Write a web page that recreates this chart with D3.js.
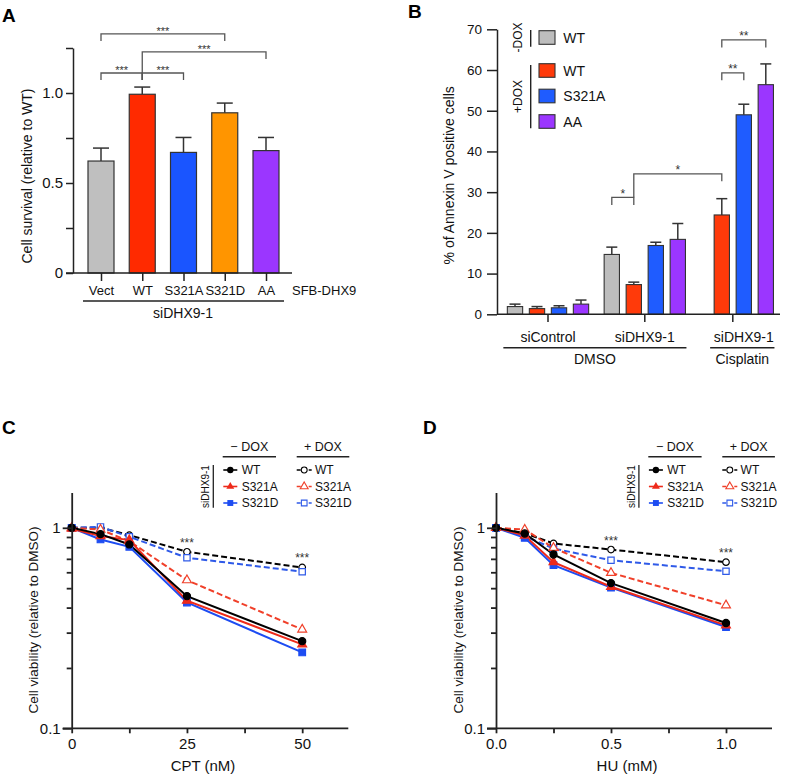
<!DOCTYPE html>
<html><head><meta charset="utf-8">
<script src="https://cdn.jsdelivr.net/npm/d3@7"></script>
<style>body{margin:0;background:#fff}svg{display:block}</style>
</head><body>
<svg id="chart" width="787" height="775"></svg>
<script>
// ================= DATA =================
// Panel A
const aCategories = ["Vect", "WT", "S321A", "S321D", "AA"];
const aValues = [0.622, 0.993, 0.670, 0.890, 0.680];
const aErrors = [0.072, 0.040, 0.083, 0.054, 0.073];
const aYTicks = [0, 0.25, 0.5, 0.75, 1.0, 1.25];
const aYTickLabels = ["0", "", "0.5", "", "1.0", ""];
const aBrackets = [
  { from: "Vect", to: "S321D", level: 1.328, label: "***" },
  { from: "WT", to: "AA", level: 1.228, label: "***" },
  { from: "Vect", to: "WT", level: 1.111, label: "***" },
  { from: "WT", to: "S321A", level: 1.111, label: "***" }
];

// Panel B
const bGroups = ["siControl", "siDHX9-1", "siDHX9-1"];
const bTreatments = ["DMSO", "DMSO", "Cisplatin"];
const bSeries = ["WT", "WT", "S321A", "AA"];
const bDox = ["-DOX", "+DOX", "+DOX", "+DOX"];
const bValues = [
  [1.9, 1.4, 1.6, 2.5],
  [14.7, 7.3, 16.9, 18.4],
  [null, 24.4, 49.0, 56.4]
];
const bErrors = [
  [0.6, 0.5, 0.5, 1.0],
  [1.8, 0.6, 0.8, 3.9],
  [null, 4.0, 2.6, 5.1]
];
const bYTicks = [0, 10, 20, 30, 40, 50, 60, 70];
const bBrackets = [
  { g1: 1, s1: 0, g2: 1, s2: 1, level: 28.7, label: "*" },
  { g1: 1, s1: 1, g2: 2, s2: 1, level: 34.5, label: "*" },
  { g1: 2, s1: 1, g2: 2, s2: 2, level: 59.3, label: "**" },
  { g1: 2, s1: 1, g2: 2, s2: 3, level: 67.4, label: "**" }
];

// Panel C (CPT)
const cDoses = [0, 6.25, 12.5, 25, 50];
const cWTminus = [1.0, 0.93, 0.826, 0.456, 0.272];
const cS321Aminus = [0.99, 0.91, 0.868, 0.433, 0.262];
const cS321Dminus = [1.0, 0.875, 0.804, 0.424, 0.239];
const cWTplus = [1.0, 1.0, 0.919, 0.759, 0.634];
const cS321Aplus = [1.0, 0.98, 0.858, 0.548, 0.311];
const cS321Dplus = [1.0, 1.01, 0.902, 0.709, 0.604];
const cXTicks = [0, 12.5, 25, 37.5, 50];
const cXTickLabels = ["0", "", "25", "", "50"];
const cStarDoses = [25, 50];

// Panel D (HU)
const dDoses = [0, 0.125, 0.25, 0.5, 1.0];
const dWTminus = [1.0, 0.937, 0.736, 0.530, 0.335];
const dS321Aminus = [1.0, 0.915, 0.674, 0.508, 0.326];
const dS321Dminus = [1.0, 0.891, 0.651, 0.503, 0.320];
const dWTplus = [1.0, 0.94, 0.835, 0.779, 0.674];
const dS321Aplus = [1.0, 0.98, 0.794, 0.596, 0.411];
const dS321Dplus = [1.0, 0.909, 0.788, 0.689, 0.607];
const dXTicks = [0, 0.25, 0.5, 0.75, 1.0];
const dXTickLabels = ["0.0", "", "0.5", "", "1.0"];
const dStarDoses = [0.5, 1.0];

const logYTicks = [0.1, 0.2, 0.3, 0.4, 0.5, 0.6, 0.7, 0.8, 0.9, 1];
const logYTickLabels = ["0.1", "", "", "", "", "", "", "", "", "1"];
const lineNames = ["WT", "S321A", "S321D"];

// ================= DRAWING =================
const FONT = "Arial, 'Liberation Sans', Helvetica, sans-serif";
const svg = d3.select("#chart").attr("font-family", FONT);
const INK = "#222";

function styleAxis(g, fs, sw) {
  g.attr("font-family", FONT).attr("font-size", fs);
  g.selectAll("text").attr("fill", "#111");
  g.selectAll("line,path").attr("stroke", INK).attr("stroke-width", sw);
}
function txt(x, y, s, fs, anchor, extra) {
  const t = svg.append("text").attr("x", x).attr("y", y).attr("font-size", fs)
    .attr("text-anchor", anchor || "start").attr("fill", "#111").text(s);
  if (extra) extra(t);
  return t;
}
function line(x1, y1, x2, y2, sw, col) {
  return svg.append("line").attr("x1", x1).attr("y1", y1).attr("x2", x2).attr("y2", y2)
    .attr("stroke", col || INK).attr("stroke-width", sw || 1.3);
}

// panel letters
[["A", 2, 21.7], ["B", 408, 18.3], ["C", 2, 434], ["D", 423, 434]].forEach(([l, x, y]) =>
  txt(x, y, l, 19, "start", t => t.attr("font-weight", "bold").attr("fill", "#000")));

// ---------- Panel A ----------
(function () {
  const aColors = ["#bfbfbf", "#ff2a00", "#1a55ff", "#ff9500", "#9b36ff"];
  const y = d3.scaleLinear([0, 1.25], [273, 48]);
  const x = d3.scalePoint(aCategories, [101, 266]);
  const bw = 26;
  const g = svg.append("g");
  g.selectAll("rect").data(aCategories).join("rect")
    .attr("x", d => x(d) - bw / 2).attr("y", (d, i) => y(aValues[i]))
    .attr("width", bw).attr("height", (d, i) => y(0) - y(aValues[i]))
    .attr("fill", (d, i) => aColors[i]).attr("stroke", "#333").attr("stroke-width", 1.2);
  aCategories.forEach((c, i) => {
    const top = y(aValues[i] + aErrors[i]);
    line(x(c), y(aValues[i]), x(c), top, 1.5, "#333");
    line(x(c) - 8, top, x(c) + 8, top, 1.5, "#333");
  });
  const ya = svg.append("g").attr("transform", "translate(73,0)")
    .call(d3.axisLeft(y).tickValues(aYTicks).tickFormat((d, i) => aYTickLabels[i]).tickSize(7).tickPadding(3).tickSizeOuter(0));
  styleAxis(ya, 15, 1.5);
  const xa = svg.append("g").attr("transform", "translate(0,273)")
    .call(d3.axisBottom(x).tickSize(8).tickPadding(4.5).tickSizeOuter(0));
  styleAxis(xa, 13, 1.5);
  xa.select(".domain").attr("d", "M66,0H292");
  txt(292, 295, "SFB-DHX9", 13, "start");
  line(83, 301, 284, 301, 1.5);
  txt(183, 318, "siDHX9-1", 14, "middle");
  txt(0, 0, "Cell survival (relative to WT)", 14, "middle",
    t => t.attr("transform", "translate(27,176) rotate(-90)").attr("dy", "0.35em"));
  // brackets
  aBrackets.forEach(b => {
    const yl = y(b.level);
    const lowest = y(d3.min(aBrackets, q => q.level)) + 7;
    const x1 = x(b.from), x2 = x(b.to);
    const dl = (b.from === "WT" && b.to === "AA") ? lowest : yl + 7;
    const dr = yl + 7;
    svg.append("path").attr("d", `M${x1},${dl}V${yl}H${x2}V${dr}`)
      .attr("fill", "none").attr("stroke", "#555").attr("stroke-width", 1.3);
    txt((x1 + x2) / 2, yl + 1, b.label, 11, "middle", t => t.attr("fill", "#333"));
  });
})();

// ---------- Panel B ----------
(function () {
  const bColors = ["#bdbdbd", "#ff3a0a", "#1f5cff", "#9b36ff"];
  const groupStart = [0, 4.4, 8.4];
  const slot = d3.scaleLinear([0, 11.4], [515, 765.8]);
  const xs = (gi, si) => slot(groupStart[gi] + si);
  const y = d3.scaleLinear([0, 70], [314.3, 29.3]);
  const bw = 15.3;
  bValues.forEach((row, gi) => row.forEach((v, si) => {
    if (v == null) return;
    const cx = xs(gi, si);
    svg.append("rect").attr("x", cx - bw / 2).attr("y", y(v)).attr("width", bw)
      .attr("height", y(0) - y(v)).attr("fill", bColors[si]).attr("stroke", "#333").attr("stroke-width", 1.1);
    const top = y(v + bErrors[gi][si]);
    line(cx, y(v), cx, top, 1.5, "#333");
    line(cx - 5.5, top, cx + 5.5, top, 1.5, "#333");
  }));
  const ya = svg.append("g").attr("transform", "translate(497,0)")
    .call(d3.axisLeft(y).tickValues(bYTicks).tickSize(10).tickPadding(5).tickSizeOuter(0));
  styleAxis(ya, 13.5, 1.5);
  line(497, 314.3, 780, 314.3, 1.5);
  bGroups.forEach((gname, gi) => {
    const tickX = slot(groupStart[gi] + 1.5);
    line(tickX, 314.3, tickX, 322, 1.5);
    const present = bValues[gi].map((v, si) => v == null ? null : xs(gi, si)).filter(v => v != null);
    const cx = (d3.min(present) + d3.max(present)) / 2;
    txt(cx, 342, gname, 14, "middle");
  });
  // treatment underline
  const treatments = Array.from(new Set(bTreatments));
  treatments.forEach(tr => {
    const xsAll = [];
    bValues.forEach((row, gi) => { if (bTreatments[gi] === tr) row.forEach((v, si) => { if (v != null) xsAll.push(xs(gi, si)); }); });
    const l = d3.min(xsAll) - bw / 2 - 4, r = d3.max(xsAll) + bw / 2 + 1;
    line(l, 347.7, r, 347.7, 1.5);
    txt((l + r) / 2, 364, tr, 14, "middle");
  });
  txt(0, 0, "% of Annexin V positive cells", 14, "middle",
    t => t.attr("transform", "translate(449.3,175.3) rotate(-90)").attr("dy", "0.35em"));
  // legend
  const legY = [37.5, 70.5, 96, 121.5];
  bSeries.forEach((s, i) => {
    svg.append("rect").attr("x", 539).attr("y", legY[i] - 6.8).attr("width", 16).attr("height", 13.6)
      .attr("fill", bColors[i]).attr("stroke", "#333").attr("stroke-width", 1.1);
    txt(563.3, legY[i] + 5, s, 14, "start");
  });
  line(530.7, 30, 530.7, 46.7, 1.4);
  line(530.7, 65, 530.7, 128.3, 1.4);
  txt(0, 0, "-DOX", 12, "middle", t => t.attr("transform", "translate(517.7,37.5) rotate(-90)").attr("dy", "0.36em"));
  txt(0, 0, "+DOX", 12, "middle", t => t.attr("transform", "translate(517.7,96.5) rotate(-90)").attr("dy", "0.36em"));
  // brackets
  const lowest = y(d3.min(bBrackets, b => b.level));
  bBrackets.forEach((b, bi) => {
    const x1 = xs(b.g1, b.s1), x2 = xs(b.g2, b.s2), yl = y(b.level);
    const dl = (bi === 1) ? lowest : yl + 7.5;
    svg.append("path").attr("d", `M${x1},${dl}V${yl}H${x2}V${yl + 7.5}`)
      .attr("fill", "none").attr("stroke", "#555").attr("stroke-width", 1.3);
    txt((x1 + x2) / 2, yl + 0.5, b.label, 12, "middle", t => t.attr("fill", "#333"));
  });
})();

// ---------- Panels C & D ----------
function drawLinePanel(o) {
  const x = d3.scaleLinear(o.xDomain, [o.x0, o.x1]);
  const yBottom = 728.3, decade = 200.5;
  const y = d3.scaleLog([0.1, 1.5], [yBottom, yBottom - decade * Math.log10(15)]);
  const red = "#ee2a1a", blue = "#1d4cf2";
  const series = [
    { v: o.plus[0], col: "#000", dash: true, sym: d3.symbolCircle, fill: false },
    { v: o.plus[2], col: "#2f5ae8", dash: true, sym: d3.symbolSquare, fill: false },
    { v: o.plus[1], col: "#f0402a", dash: true, sym: d3.symbolTriangle, fill: false },
    { v: o.minus[2], col: blue, dash: false, sym: d3.symbolSquare, fill: true },
    { v: o.minus[1], col: red, dash: false, sym: d3.symbolTriangle, fill: true },
    { v: o.minus[0], col: "#000", dash: false, sym: d3.symbolCircle, fill: true }
  ];
  const lg = d3.line().x((d, i) => x(o.doses[i])).y(d => y(d));
  const symSize = (s, f) => s === d3.symbolCircle ? (f ? 40 : 34) : s === d3.symbolTriangle ? (f ? 34 : 34) : (f ? 44 : 40);
  series.forEach(s => {
    svg.append("path").attr("d", lg(s.v)).attr("fill", "none").attr("stroke", s.col)
      .attr("stroke-width", 2).attr("stroke-dasharray", s.dash ? "6,3" : null);
  });
  series.forEach(s => {
    s.v.forEach((v, i) => {
      svg.append("path").attr("d", d3.symbol().type(s.sym).size(symSize(s.sym, s.fill))())
        .attr("transform", `translate(${x(o.doses[i])},${y(v)})`)
        .attr("fill", s.fill ? s.col : "#fff").attr("stroke", s.col).attr("stroke-width", 1.2);
    });
  });
  // axes
  const ya = svg.append("g").attr("transform", `translate(${o.x0},0)`)
    .call(d3.axisLeft(y).tickValues(logYTicks).tickFormat((d, i) => logYTickLabels[i]).tickSize(9).tickPadding(2).tickSizeOuter(0));
  styleAxis(ya, 15, 1.8);
  ya.selectAll(".tick line").attr("x2", (d, i) => logYTickLabels[i] ? -9 : -5);
  const xa = svg.append("g").attr("transform", `translate(0,${yBottom})`)
    .call(d3.axisBottom(x).tickValues(o.xTicks).tickFormat((d, i) => o.xTickLabels[i]).tickSize(5).tickPadding(5.5).tickSizeOuter(0));
  styleAxis(xa, 15, 1.8);
  xa.select(".domain").attr("d", `M${o.x0 - 9},0H${o.x1}`);
  txt((o.x0 + o.x1) / 2 - 7, 771, o.xLabel, 15, "middle");
  txt(0, 0, "Cell viability (relative to DMSO)", 13.5, "middle",
    t => t.attr("transform", `translate(${o.yLabelX},620) rotate(-90)`).attr("dy", "0.35em"));
  // stars
  o.starDoses.forEach(dv => {
    const i = o.doses.indexOf(dv);
    const mx = d3.max(o.plus.concat(o.minus), s => s[i]);
    txt(x(dv), y(mx) - 5, "***", 12, "middle", t => t.attr("fill", "#333"));
  });
  // legend
  const L = o.legL, rows = [470, 486.5, 503];
  const symbols = [d3.symbolCircle, d3.symbolTriangle, d3.symbolSquare];
  const colsMinus = ["#000", red, blue], colsPlus = ["#000", "#f0402a", "#2f5ae8"];
  txt(L + 26.6, 451, "\u2212 DOX", 12.5, "middle");
  txt(L + 100.3, 451, "+ DOX", 12.5, "middle");
  line(L, 456.7, L + 53.3, 456.7, 1.5);
  line(L + 74, 456.7, L + 126.6, 456.7, 1.5);
  line(L - 9.4, 465, L - 9.4, 507.7, 1.3);
  txt(0, 0, "siDHX9-1", 10, "middle", t => t.attr("transform", `translate(${L - 17},486.5) rotate(-90)`).attr("dy", "0.36em"));
  lineNames.forEach((n, i) => {
    line(L + 0.6, rows[i], L + 14.6, rows[i], 1.6, colsMinus[i]);
    svg.append("path").attr("d", d3.symbol().type(symbols[i]).size(symSize(symbols[i], true) * 0.8)())
      .attr("transform", `translate(${L + 7.6},${rows[i]})`).attr("fill", colsMinus[i]);
    txt(L + 19, rows[i] + 4.3, n, 12, "start");
    line(L + 74, rows[i], L + 89, rows[i], 1.4, colsPlus[i]).attr("stroke-dasharray", "4,2");
    svg.append("path").attr("d", d3.symbol().type(symbols[i]).size(symSize(symbols[i], false) * 0.8)())
      .attr("transform", `translate(${L + 81.5},${rows[i]})`).attr("fill", "#fff").attr("stroke", colsPlus[i]).attr("stroke-width", 1.1);
    txt(L + 92.3, rows[i] + 4.3, n, 12, "start");
  });
}

drawLinePanel({
  xDomain: [0, 60], x0: 71.7, x1: 348.3, doses: cDoses,
  minus: [cWTminus, cS321Aminus, cS321Dminus], plus: [cWTplus, cS321Aplus, cS321Dplus],
  xTicks: cXTicks, xTickLabels: cXTickLabels, xLabel: "CPT (nM)", yLabelX: 33.3,
  starDoses: cStarDoses, legL: 222.7
});
drawLinePanel({
  xDomain: [0, 1.2], x0: 496, x1: 772, doses: dDoses,
  minus: [dWTminus, dS321Aminus, dS321Dminus], plus: [dWTplus, dS321Aplus, dS321Dplus],
  xTicks: dXTicks, xTickLabels: dXTickLabels, xLabel: "HU (mM)", yLabelX: 458.3,
  starDoses: dStarDoses, legL: 648.3
});
</script>
</body></html>
